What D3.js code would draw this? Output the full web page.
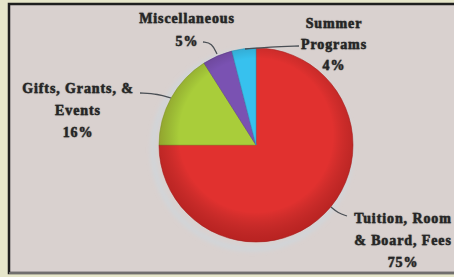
<!DOCTYPE html>
<html>
<head>
<meta charset="utf-8">
<script src="https://cdn.jsdelivr.net/npm/d3@7"></script>
<style>
  html, body { margin: 0; padding: 0; background: #e6e6ca; }
  svg { display: block; }
</style>
</head>
<body>
<div id="chart"></div>
<script>
"use strict"

// data
const categories = ["Tuition, Room & Board, Fees", "Gifts, Grants, & Events", "Miscellaneous", "Summer Programs"];
const values = [75, 16, 5, 4];
const sliceColors = ["#e1312f", "#a9cd3a", "#7a52b2", "#37c1ee"];
const labelLines = [
  ["Tuition, Room", "& Board, Fees"],
  ["Gifts, Grants, &", "Events"],
  ["Miscellaneous"],
  ["Summer", "Programs"]
];

// set the dimensions of the graph
const width = 454, height = 277;
const cx = 256, cy = 145, radius = 97;

const svg = d3.select("#chart")
  .append("svg")
    .attr("width", width)
    .attr("height", height);

const defs = svg.append("defs");

// rim shading so the pie looks a bit round
const shade = defs.append("radialGradient")
  .attr("id", "shade")
  .attr("cx", "50%").attr("cy", "45%").attr("r", "55%");
shade.append("stop").attr("offset", "72%").attr("stop-color", "#000").attr("stop-opacity", 0);
shade.append("stop").attr("offset", "100%").attr("stop-color", "#5a0000").attr("stop-opacity", 0.3);

const glow = defs.append("filter")
  .attr("id", "glow")
  .attr("x", "-20%").attr("y", "-20%").attr("width", "140%").attr("height", "140%");
glow.append("feGaussianBlur").attr("stdDeviation", 2.5);

// panel with the dark frame
svg.append("rect")
  .attr("x", 9).attr("y", 4)
  .attr("width", width - 9 + 5).attr("height", 269)
  .attr("fill", "#d9d1cf")
  .attr("stroke", "#1e1e1e")
  .attr("stroke-width", 2.5);
svg.append("line")
  .attr("x1", 9).attr("x2", width)
  .attr("y1", 273).attr("y2", 273)
  .attr("stroke", "#8c8a88").attr("stroke-width", 1.5);

const g = svg.append("g")
  .attr("transform", "translate(" + cx + "," + cy + ")");

// faint light blue halo behind the pie
g.append("circle")
  .attr("cx", -4).attr("cy", 5)
  .attr("r", radius + 2)
  .attr("fill", "none")
  .attr("stroke", "#c4dbe8")
  .attr("stroke-opacity", 0.7)
  .attr("stroke-width", 3)
  .attr("filter", "url(#glow)");

const pie = d3.pie().sort(null).value(function(d) { return d; });
const arcs = pie(values);

const arc = d3.arc().innerRadius(0).outerRadius(radius);

g.selectAll("path.slice")
  .data(arcs)
  .enter()
  .append("path")
    .attr("class", "slice")
    .attr("d", arc)
    .attr("fill", function(d, i) { return sliceColors[i]; })
    .attr("stroke", function(d, i) { return d3.color(sliceColors[i]).darker(0.6); })
    .attr("stroke-width", 0.6);

g.append("circle")
  .attr("r", radius)
  .attr("fill", "url(#shade)");

// label placement (center x, first baseline, line step) and leader lines
const labelPos = [
  {x: 403, y: 223, step: 22, lead: [[347, 216], [338, 213], [331, 207]]},
  {x: 78,  y: 93,  step: 22, lead: [[140, 93], [158, 94], [171, 98]]},
  {x: 187, y: 23,  step: 23, lead: [[203, 42], [212, 43], [217, 54]]},
  {x: 334, y: 28,  step: 21, lead: [[299, 46], [270, 47], [245, 49]]}
];

const line = d3.line().curve(d3.curveBasis);

svg.selectAll("path.leader")
  .data(labelPos)
  .enter()
  .append("path")
    .attr("class", "leader")
    .attr("d", function(d) { return line(d.lead); })
    .attr("fill", "none")
    .attr("stroke", "#4a4f55")
    .attr("stroke-width", 1.3);

const labels = svg.selectAll("text.label")
  .data(arcs)
  .enter()
  .append("text")
    .attr("class", "label")
    .attr("text-anchor", "middle")
    .attr("font-family", "'Liberation Serif', serif")
    .attr("font-weight", "bold")
    .attr("font-size", 14)
    .attr("letter-spacing", 0.9)
    .attr("fill", "#262626")
    .attr("stroke", "#262626")
    .attr("stroke-width", 0.3)
    .style("text-shadow", "0 0 1px rgba(40,40,40,0.6)");

labels.each(function(d, i) {
  const t = d3.select(this);
  const p = labelPos[i];
  const lines = labelLines[i].concat([values[i] + "%"]);
  lines.forEach(function(s, k) {
    t.append("tspan")
      .attr("x", p.x)
      .attr("y", p.y + k * p.step)
      .text(s);
  });
});
</script>
</body>
</html>
